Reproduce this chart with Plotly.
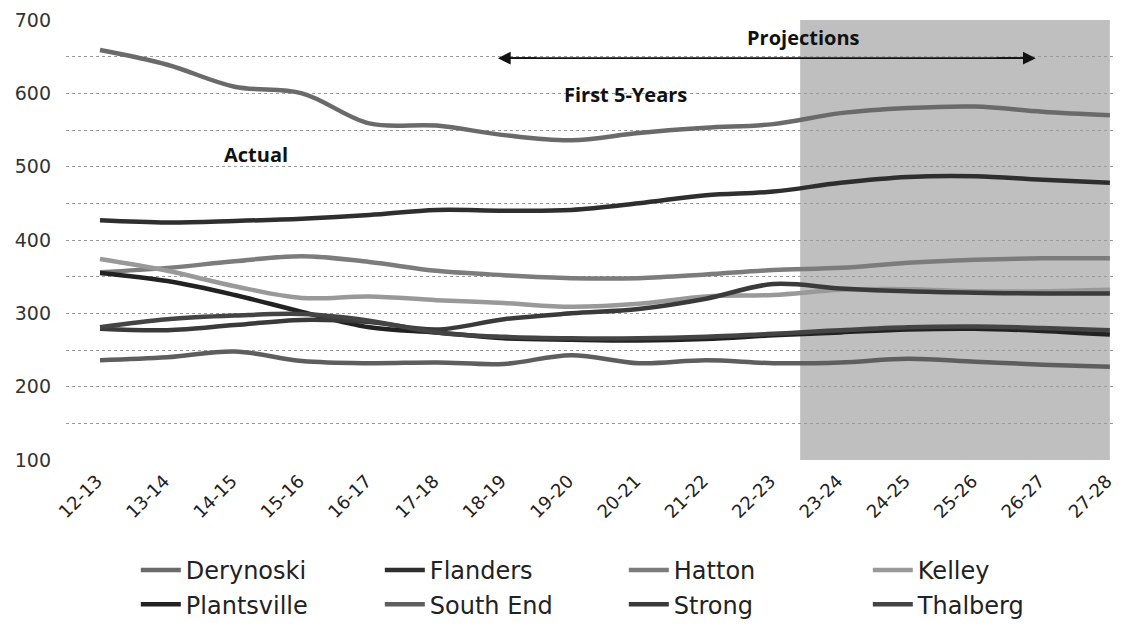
import plotly.graph_objects as go

years = ["12-13", "13-14", "14-15", "15-16", "16-17", "17-18", "18-19", "19-20",
         "20-21", "21-22", "22-23", "23-24", "24-25", "25-26", "26-27", "27-28"]

derynoski = [659, 639, 609, 600, 559, 556, 543, 536, 546, 553, 558, 573, 580, 582, 575, 570]
flanders = [427, 424, 426, 429, 434, 441, 440, 441, 450, 461, 466, 478, 486, 487, 482, 478]
hatton = [356, 362, 371, 378, 370, 358, 352, 348, 348, 353, 359, 362, 369, 373, 375, 375]
kelley = [374, 358, 337, 321, 323, 318, 314, 309, 313, 323, 325, 332, 333, 330, 330, 332]
plantsville = [355, 344, 325, 302, 281, 274, 266, 264, 263, 265, 270, 274, 278, 279, 276, 271]
south_end = [236, 240, 248, 235, 232, 233, 231, 243, 232, 236, 232, 233, 238, 234, 230, 227]
strong = [279, 277, 284, 291, 288, 278, 292, 300, 306, 320, 340, 334, 330, 328, 327, 327]
thalberg = [281, 292, 297, 299, 290, 274, 268, 266, 266, 268, 272, 277, 281, 282, 280, 277]

series = [
    ("Derynoski", derynoski, "#6a6a6a"),
    ("Flanders", flanders, "#2e2e2e"),
    ("Hatton", hatton, "#7c7c7c"),
    ("Kelley", kelley, "#999999"),
    ("Plantsville", plantsville, "#222222"),
    ("South End", south_end, "#5e5e5e"),
    ("Strong", strong, "#3a3a3a"),
    ("Thalberg", thalberg, "#444444"),
]

fig = go.Figure()
for name, vals, col in series:
    fig.add_trace(go.Scatter(
        x=years, y=vals, name=name, mode="lines",
        line=dict(color=col, width=4.5, shape="spline", smoothing=1),
    ))

# projection shading
fig.add_shape(type="rect", xref="x", yref="paper", x0=10.4, x1=15.0, y0=0, y1=1.0,
              fillcolor="#bfbfbf", line=dict(width=0), layer="below")

# double-headed arrow: shaft + two heads
arrow_y = 648
fig.add_shape(type="line", xref="x", yref="y", x0=5.95, x1=13.85, y0=arrow_y, y1=arrow_y,
              line=dict(color="#111111", width=1.6))
for head, tail in ((5.91, 6.5), (13.9, 13.3)):
    fig.add_annotation(x=head, y=arrow_y, ax=tail, ay=arrow_y, xref="x", yref="y",
                       axref="x", ayref="y", text="", showarrow=True,
                       arrowhead=2, arrowsize=1.6, arrowwidth=1.6, arrowcolor="#111111")

txtfont = dict(family="Open Sans", size=20, color="#111111")
fig.add_annotation(x=10.45, y=676, xref="x", yref="y", text="<b>Projections</b>",
                   showarrow=False, font=txtfont)
fig.add_annotation(x=7.81, y=598, xref="x", yref="y", text="<b>First 5-Years</b>",
                   showarrow=False, font=txtfont)
fig.add_annotation(x=2.32, y=516, xref="x", yref="y", text="<b>Actual</b>",
                   showarrow=False, font=txtfont)

fig.update_layout(
    width=1116, height=622,
    margin=dict(l=58, r=0, t=12, b=170, autoexpand=False),
    paper_bgcolor="white", plot_bgcolor="white",
    showlegend=True,
    legend=dict(orientation="h", x=0.066, xanchor="left", y=-0.2, yanchor="top",
                entrywidth=189, entrywidthmode="pixels",
                font=dict(family="DejaVu Sans", size=24, color="#222222"),
                itemwidth=40, traceorder="normal"),
)
fig.update_xaxes(
    type="category", range=[-0.505, 15.21], tickangle=-45,
    tickfont=dict(family="DejaVu Sans", size=18, color="#222222"),
    showgrid=False, showline=False, zeroline=False, ticks="",
    ticklabelshift=-3, ticklabelstandoff=6, automargin=False,
)
fig.update_yaxes(
    range=[100, 700], tickvals=[100, 200, 300, 400, 500, 600, 700],
    tickfont=dict(family="DejaVu Sans", size=19, color="#333333"),
    zeroline=False, showline=False, ticks="",
    ticklabelstandoff=14, automargin=False,
    showgrid=True, gridcolor="#9a9a9a", griddash="dot", gridwidth=1,
    minor=dict(tickvals=[150, 250, 350, 450, 550, 650], showgrid=True,
               gridcolor="#9a9a9a", griddash="dot", gridwidth=1),
)

fig.write_html("out.html")
